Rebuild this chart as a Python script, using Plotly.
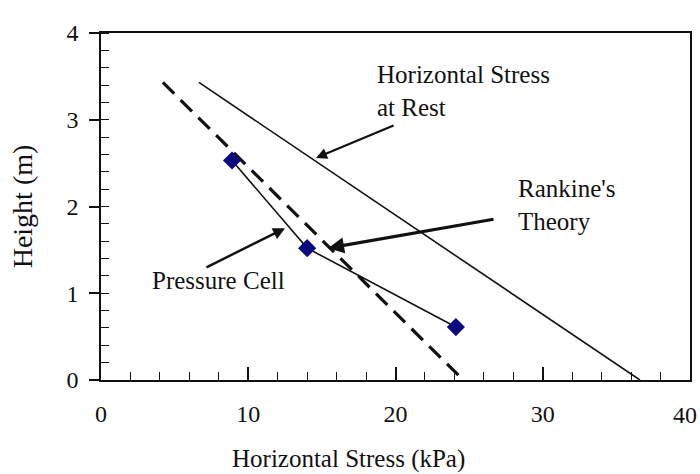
import plotly.graph_objects as go

# Measured horizontal stress from the pressure cells
cell_stress = [8.9, 14.0, 24.1]          # kPa
cell_height = [2.53, 1.52, 0.61]         # m

# Rankine active earth pressure line
rankine_stress = [4.2, 24.6]
rankine_height = [3.43, 0.0]

# Horizontal stress at rest line
rest_stress = [6.65, 36.6]
rest_height = [3.43, 0.0]

x_ticks = [0, 10, 20, 30, 40]
y_ticks = [0, 1, 2, 3, 4]

FONT = "Liberation Serif"
INK = "#111111"

fig = go.Figure()

fig.add_trace(go.Scatter(
    x=rest_stress, y=rest_height, mode="lines",
    line=dict(color=INK, width=1.6), showlegend=False, hoverinfo="skip"))

fig.add_trace(go.Scatter(
    x=rankine_stress, y=rankine_height, mode="lines",
    line=dict(color=INK, width=3.2, dash="16px,9px"), showlegend=False, hoverinfo="skip"))

fig.add_trace(go.Scatter(
    x=cell_stress, y=cell_height, mode="lines+markers",
    line=dict(color=INK, width=1.6),
    marker=dict(symbol="diamond", size=14, color="#0b0b80", line=dict(width=0)),
    showlegend=False))

# Annotation texts
labels = [
    dict(text="Horizontal Stress<br>at Rest", x=18.6, y=3.33),
    dict(text="Rankine's<br>Theory", x=28.2, y=2.02),
    dict(text="Pressure Cell", x=3.3, y=1.15),
]
for lab in labels:
    fig.add_annotation(x=lab["x"], y=lab["y"], text=lab["text"], showarrow=False,
                       xanchor="left", yanchor="middle", align="left",
                       font=dict(family=FONT, size=25, color=INK))

# Pointer arrows: (tip, tail, width)
arrows = [
    ((14.6, 2.56), (19.97, 2.94), 2.2),
    ((15.42, 1.52), (26.76, 1.856), 3.2),
    ((12.5, 1.75), (7.06, 1.29), 2.4),
]
for (tx, ty), (sx, sy), w in arrows:
    fig.add_annotation(x=tx, y=ty, ax=sx, ay=sy, xref="x", yref="y",
                       axref="x", ayref="y", text="", showarrow=True,
                       arrowhead=2, arrowsize=1.0, arrowwidth=w, arrowcolor=INK)

fig.add_annotation(text="Horizontal Stress (kPa)", xref="paper", yref="paper",
                   x=(348 - 101) / 589, y=-(459 - 380) / 347, xanchor="center",
                   yanchor="middle", showarrow=False,
                   font=dict(family=FONT, size=25, color=INK))

# The last x tick label sits flush against the right edge of the page
x_ticktext = [str(v) for v in x_ticks[:-1]] + [""]
fig.add_annotation(text=str(x_ticks[-1]), x=x_ticks[-1], xref="x",
                   y=-(415 - 380) / 347, yref="paper", xanchor="right",
                   yanchor="middle", xshift=9, showarrow=False,
                   font=dict(family=FONT, size=24, color=INK))

fig.update_layout(
    width=700, height=474,
    margin=dict(l=101, r=10, t=33, b=94, autoexpand=False),
    paper_bgcolor="white", plot_bgcolor="white",
    font=dict(family=FONT, size=24, color=INK),
    xaxis=dict(range=[0, 40], tickvals=x_ticks, ticktext=x_ticktext,
               ticks="inside", ticklen=13,
               tickwidth=1.6, tickcolor=INK, showline=True, linecolor=INK,
               linewidth=1.6, mirror=True, showgrid=False, zeroline=False,
               ticklabelstandoff=11, ticklabeloverflow="allow", automargin=False,
               minor=dict(dtick=2, ticks="inside", ticklen=8, tickwidth=1.4,
                          tickcolor=INK, showgrid=False)),
    yaxis=dict(range=[0, 4], tickvals=y_ticks, ticks="outside", ticklen=10,
               tickwidth=1.6, tickcolor=INK, showline=True, linecolor=INK,
               linewidth=1.6, mirror=True, showgrid=False, zeroline=False,
               ticklabelstandoff=6, ticklabeloverflow="allow", automargin=False,
               title=dict(text="Height (m)", font=dict(family=FONT, size=28),
                          standoff=26),
               minor=dict(dtick=0.2, ticks="inside", ticklen=8, tickwidth=1.4,
                          tickcolor=INK, showgrid=False)),
    yaxis2=dict(overlaying="y", matches="y", range=[0, 4], tickvals=y_ticks,
                ticks="inside", ticklen=8, tickwidth=1.6, tickcolor=INK,
                showticklabels=False, showline=False, showgrid=False,
                zeroline=False, side="left", automargin=False),
)

fig.write_html("out.html")
